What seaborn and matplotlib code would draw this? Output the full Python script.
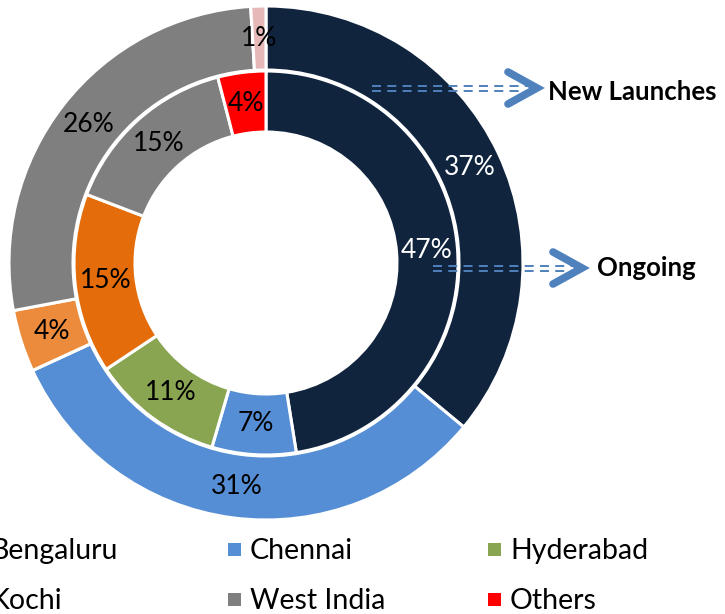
import numpy as np
import matplotlib.pyplot as plt
import seaborn as sns
from matplotlib.patches import Rectangle

# data
regions = ['Bengaluru', 'Chennai', 'Hyderabad', 'Kochi', 'West India', 'Others']
# outer ring (new launches): slice sizes as drawn, and the printed labels
new_launches = [36.0, 32.1, 0, 3.9, 27.0, 0.95]
new_launches_labels = ['37%', '31%', '', '4%', '26%', '1%']
# inner ring (ongoing)
ongoing = [47, 7, 11, 15, 15, 4]
ongoing_labels = ['47%', '7%', '11%', '15%', '15%', '4%']

inner_colors = ['#10243E', '#558ED5', '#8AA552', '#E46C0A', '#7F7F7F', '#FF0000']
outer_colors = ['#10243E', '#558ED5', '#8AA552', '#EB8B3B', '#7F7F7F', '#E6B9B8']
arrow_color = '#4F81BD'

sns.set_theme(style='white')
plt.rcParams['font.family'] = ['Lato', 'DejaVu Sans']
plt.rcParams['lines.scale_dashes'] = False

W, H = 725, 614
fig = plt.figure(figsize=(W / 100, H / 100), dpi=100)
ax = fig.add_axes([0, 0, 1, 1])

# center of the donut in pixel coords (y up)
cx, cy = 266, H - 263
edge = dict(edgecolor='white', linewidth=2.2)

outer, _ = ax.pie(new_launches, radius=257, center=(cx, cy), startangle=90,
                  counterclock=False, colors=outer_colors,
                  wedgeprops=dict(width=64, **edge))
inner, _ = ax.pie(ongoing, radius=192, center=(cx, cy), startangle=90,
                  counterclock=False, colors=inner_colors,
                  wedgeprops=dict(width=61, **edge))


def ring_labels(wedges, labels, r):
    for i, (w, lab) in enumerate(zip(wedges, labels)):
        if not lab:
            continue
        a = np.deg2rad((w.theta1 + w.theta2) / 2)
        ax.text(cx + r * np.cos(a), cy + r * np.sin(a), lab,
                ha='center', va='center', fontsize=19,
                color='white' if i == 0 else 'black')


ring_labels(outer, new_launches_labels, 225)
ring_labels(inner, ongoing_labels, 161)


# dashed pointers with chevron heads
def pointer(x0, x1, y, tip, label, lx, ly):
    for dy in (-2.5, 2.5):
        ax.plot([x0, x1], [H - y - dy] * 2, color=arrow_color, lw=1.4,
                dashes=(6.5, 4.5))
    ax.plot([tip - 29, tip, tip - 29], [H - y + 16, H - y, H - y - 16],
            color=arrow_color, lw=5.5, solid_capstyle='round',
            solid_joinstyle='miter')
    ax.text(lx, H - ly, label, fontsize=18.5, fontweight='bold',
            ha='left', va='baseline', color='black')


pointer(372, 528, 88, 537, 'New Launches', 548, 100)
pointer(433, 572, 268, 582, 'Ongoing', 597, 276)

# legend, laid out like the original (first column runs off the edge)
for i, (name, col) in enumerate(zip(regions, inner_colors)):
    row, c = divmod(i, 3)
    x = -32 + c * 260
    yc = 549 + row * 50
    ax.add_patch(Rectangle((x, H - yc - 6.5), 13, 13, color=col, lw=0))
    ax.text(x + 22, H - (559 + row * 50), name, fontsize=20.5,
            ha='left', va='baseline', color='black')

ax.set_xlim(0, W)
ax.set_ylim(0, H)
ax.set_aspect('equal')
ax.axis('off')

fig.savefig('out.png', dpi=100)
